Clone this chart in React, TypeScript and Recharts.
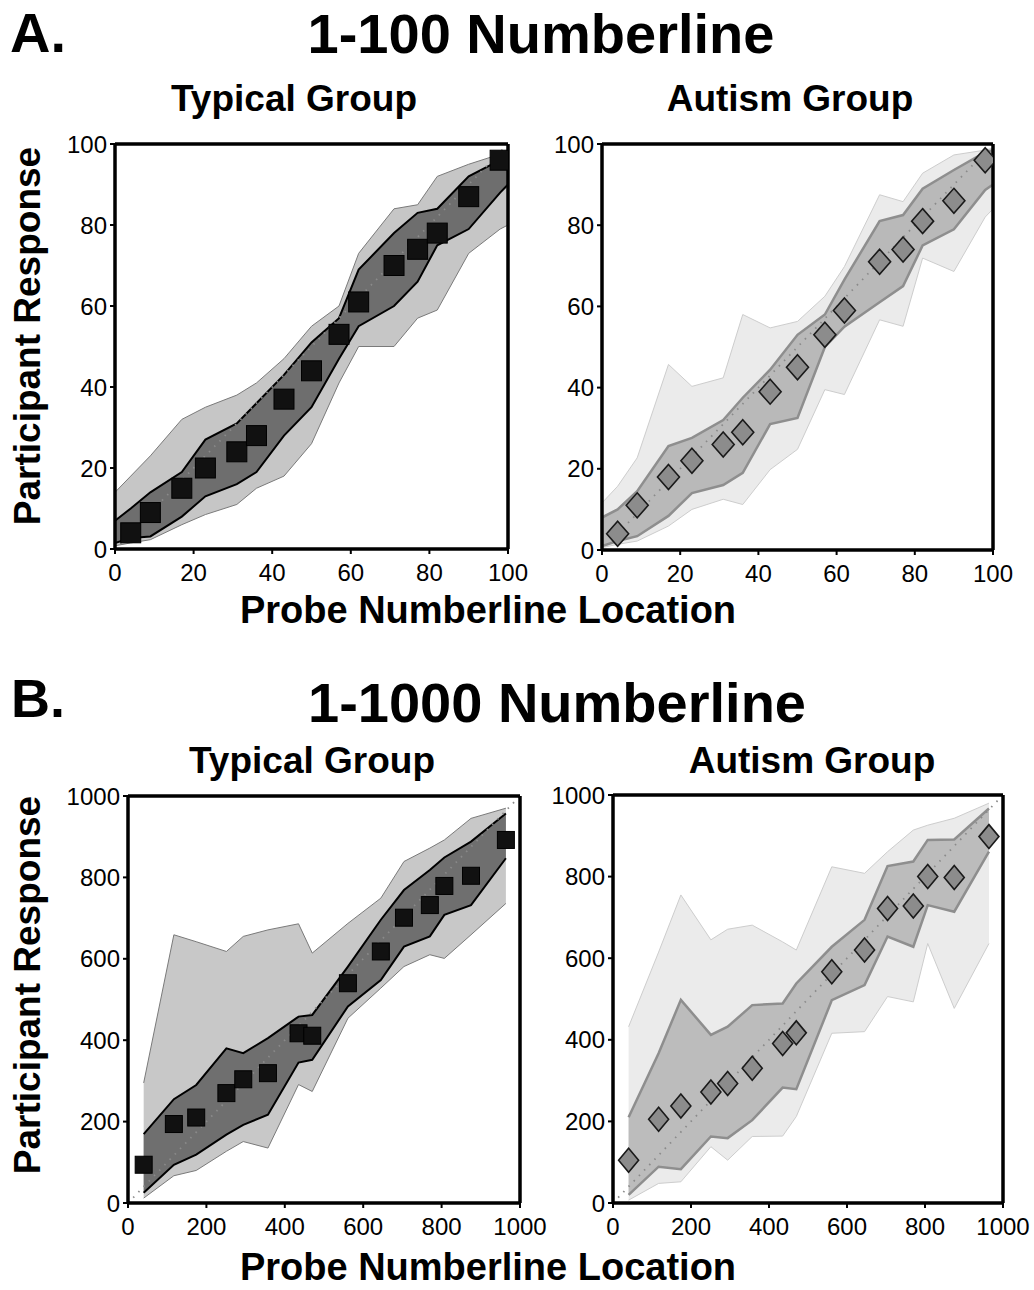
import React from 'react';
import { ComposedChart, Area, Line, Scatter, XAxis, YAxis } from 'recharts';

// ---------- 1-100 numberline ----------
const probesA = [4, 9, 17, 23, 31, 36, 43, 50, 57, 62, 71, 77, 82, 90, 98];
const bandXA = [0, 4, 9, 17, 23, 31, 36, 43, 50, 57, 62, 71, 77, 82, 90, 98, 100];
const ticksA = [0, 20, 40, 60, 80, 100];

const typA_mean = [4, 9, 15, 20, 24, 28, 37, 44, 53, 61, 70, 74, 78, 87, 96];
const typA_innerHi = [7, 10, 14, 19, 27, 31, 36, 43, 51, 57, 69, 78, 83, 84, 92, 96, 97];
const typA_innerLo = [1.5, 2.7, 3.1, 8, 13, 16, 19, 28, 35, 47, 55, 60, 66, 75, 79, 88, 90];
const typA_outerHi = [14, 18, 23, 32, 35, 38, 41, 47, 55, 60, 73, 84, 85, 92, 95, 97.5, 98];
const typA_outerLo = [0.8, 1.5, 2.3, 6, 8.5, 11, 15, 18, 26, 41, 50, 50, 57, 59, 73, 79, 80];

const autA_mean = [4, 11, 18, 22, 26, 29, 39, 45, 53, 59, 71, 74, 81, 86, 96];
const autA_innerHi = [8, 10, 14.5, 25.6, 27.6, 32, 37.5, 44.4, 53, 58, 66.6, 81, 82.5, 89, 93.6, 98, 98.5];
const autA_innerLo = [1, 2.2, 3.4, 8.4, 14, 16, 19, 31, 32.5, 50, 55, 61, 65, 75, 79, 88.7, 90];
const autA_outerHi = [11.6, 15.7, 22.7, 45.7, 40.3, 42.4, 58, 54.7, 56.3, 62.5, 69.8, 87.5, 85.8, 92.8, 97.3, 98.5, 99];
const autA_outerLo = [0.6, 1.4, 2.2, 5.9, 10, 12.5, 11.2, 19.8, 24.8, 39.5, 38.3, 56.7, 55.1, 71.9, 68.6, 82, 84];

// ---------- 1-1000 numberline ----------
const probesB = [40, 117, 174, 251, 294, 357, 435, 470, 561, 645, 704, 770, 807, 875, 964];
const bandXB = probesB;
const ticksB = [0, 200, 400, 600, 800, 1000];

const typB_mean = [94, 194, 210, 270, 304, 319, 417, 411, 540, 618, 701, 732, 779, 804, 892];
const typB_innerHi = [169, 255, 290, 380, 368, 405, 458, 462, 581, 696, 769, 818, 849, 888, 957];
const typB_innerLo = [25, 94, 119, 168, 192, 217, 345, 352, 483, 548, 630, 655, 708, 732, 847];
const typB_outerHi = [295, 659, 642, 618, 655, 671, 686, 614, 687, 749, 839, 872, 892, 945, 970];
const typB_outerLo = [12, 67, 80, 127, 151, 135, 291, 274, 454, 528, 581, 610, 601, 659, 736];

const autB_mean = [105, 205, 238, 272, 293, 330, 391, 417, 567, 620, 722, 728, 800, 798, 898];
const autB_innerHi = [210, 367, 498, 412, 432, 485, 489, 538, 628, 694, 826, 837, 890, 891, 967];
const autB_innerLo = [20, 89, 83, 163, 159, 203, 283, 279, 497, 534, 653, 628, 730, 714, 861];
const autB_outerHi = [432, 615, 755, 645, 671, 681, 640, 620, 824, 808, 861, 914, 926, 943, 980];
const autB_outerLo = [7, 48, 52, 138, 105, 163, 164, 212, 416, 420, 506, 493, 636, 477, 636];

const FONT = '"Liberation Sans", Arial, Helvetica, sans-serif';

const bandRows = (xs: number[], oLo: number[], oHi: number[], iLo: number[], iHi: number[]) =>
  xs.map((x, i) => ({ x, outer: [oLo[i], oHi[i]], inner: [iLo[i], iHi[i]] }));
const markerRows = (xs: number[], ys: number[]) => xs.map((x, i) => ({ x, y: ys[i] }));

const squareShape = (size: number) => (p: any) => {
  if (p.cx == null || p.cy == null) return <g />;
  return (
    <rect x={p.cx - size / 2} y={p.cy - size / 2} width={size} height={size}
      fill="#111" stroke="#000" strokeWidth={1} />
  );
};
const diamondShape = (w: number, h: number) => (p: any) => {
  if (p.cx == null || p.cy == null) return <g />;
  const { cx, cy } = p;
  return (
    <polygon points={`${cx},${cy - h / 2} ${cx + w / 2},${cy} ${cx},${cy + h / 2} ${cx - w / 2},${cy}`}
      fill="#8c8c8c" stroke="#1a1a1a" strokeWidth={1.6} />
  );
};

type PanelProps = {
  rect: { x0: number; y0: number; x1: number; y1: number };
  max: number;
  ticks: number[];
  bands: any[];
  markers: any[];
  outerFill: string; outerStroke: string; outerW: number;
  innerFill: string; innerStroke: string; innerW: number;
  shape: any;
};

function Panel(props: PanelProps) {
  const { rect, max, ticks, bands, markers, shape } = props;
  const mL = 80, mR = 30, mT = 12, mB = 44, side = 1;
  const left = rect.x0 - mL, top = rect.y0 - mT - side;
  const width = rect.x1 - rect.x0 + mL + mR + side;
  const height = rect.y1 - rect.y0 + mT + side + mB;
  const identity = [{ x: 0, y: 0 }, { x: max, y: max }];
  const tickStyle = { fontSize: 24, fill: '#000', fontFamily: FONT };
  const axisLine = { stroke: '#000', strokeWidth: 3.5 };
  const tickLine = { stroke: '#000', strokeWidth: 2 };
  return (
    <div style={{ position: 'absolute', left, top }}>
      <ComposedChart width={width} height={height} data={bands}
        margin={{ top: mT, right: mR, bottom: 0, left: 0 }}>
        <XAxis xAxisId="b" dataKey="x" type="number" domain={[0, max]} ticks={ticks}
          height={mB} tick={tickStyle} tickSize={5} tickMargin={10}
          stroke="#000" strokeWidth={3.5}
          axisLine={axisLine} tickLine={tickLine} allowDataOverflow />
        <XAxis xAxisId="t" orientation="top" dataKey="x" type="number" domain={[0, max]} ticks={ticks}
          height={side} tick={false} tickSize={4} stroke="#000" strokeWidth={3.5}
          axisLine={axisLine} tickLine={tickLine} allowDataOverflow />
        <YAxis yAxisId="l" type="number" domain={[0, max]} ticks={ticks} width={mL}
          tick={tickStyle} tickSize={5} tickMargin={3} stroke="#000" strokeWidth={3.5}
          axisLine={axisLine} tickLine={tickLine} allowDataOverflow />
        <YAxis yAxisId="r" orientation="right" type="number" domain={[0, max]} ticks={ticks} width={side}
          tick={false} tickSize={4} stroke="#000" strokeWidth={3.5}
          axisLine={axisLine} tickLine={tickLine} allowDataOverflow />
        <Area xAxisId="b" yAxisId="l" dataKey="outer" type="linear"
          fill={props.outerFill} fillOpacity={1} stroke={props.outerStroke} strokeWidth={props.outerW}
          isAnimationActive={false} dot={false} activeDot={false} />
        <Area xAxisId="b" yAxisId="l" dataKey="inner" type="linear"
          fill={props.innerFill} fillOpacity={1} stroke={props.innerStroke} strokeWidth={props.innerW}
          isAnimationActive={false} dot={false} activeDot={false} />
        <Line xAxisId="b" yAxisId="l" data={identity} dataKey="y" type="linear"
          stroke="#8a8a8a" strokeWidth={1.8} strokeDasharray="1.5 6" dot={false} activeDot={false}
          isAnimationActive={false} />
        <Scatter xAxisId="b" yAxisId="l" data={markers} dataKey="y" shape={shape}
          isAnimationActive={false} />
      </ComposedChart>
    </div>
  );
}

export default function App() {
  const bold = { fontFamily: FONT, fontWeight: 700, fill: '#000' } as any;
  return (
    <div style={{ position: 'absolute', left: 0, top: 0, width: 1034, height: 1290, background: '#fff', overflow: 'hidden' }}>
      <Panel rect={{ x0: 115, y0: 144, x1: 508, y1: 549 }} max={100} ticks={ticksA}
        bands={bandRows(bandXA, typA_outerLo, typA_outerHi, typA_innerLo, typA_innerHi)}
        markers={markerRows(probesA, typA_mean)}
        outerFill="#c6c6c6" outerStroke="#7a7a7a" outerW={1}
        innerFill="#6e6e6e" innerStroke="#000" innerW={2}
        shape={squareShape(20)} />
      <Panel rect={{ x0: 602, y0: 144, x1: 993, y1: 550 }} max={100} ticks={ticksA}
        bands={bandRows(bandXA, autA_outerLo, autA_outerHi, autA_innerLo, autA_innerHi)}
        markers={markerRows(probesA, autA_mean)}
        outerFill="#ebebeb" outerStroke="#cdcdcd" outerW={1}
        innerFill="#b9b9b9" innerStroke="#8e8e8e" innerW={2.5}
        shape={diamondShape(22, 25)} />
      <Panel rect={{ x0: 128, y0: 796, x1: 520, y1: 1203 }} max={1000} ticks={ticksB}
        bands={bandRows(bandXB, typB_outerLo, typB_outerHi, typB_innerLo, typB_innerHi)}
        markers={markerRows(probesB, typB_mean)}
        outerFill="#c8c8c8" outerStroke="#7a7a7a" outerW={1}
        innerFill="#6f6f6f" innerStroke="#000" innerW={2}
        shape={squareShape(17)} />
      <Panel rect={{ x0: 613, y0: 795, x1: 1003, y1: 1203 }} max={1000} ticks={ticksB}
        bands={bandRows(bandXB, autB_outerLo, autB_outerHi, autB_innerLo, autB_innerHi)}
        markers={markerRows(probesB, autB_mean)}
        outerFill="#ebebeb" outerStroke="#cdcdcd" outerW={1}
        innerFill="#bcbcbc" innerStroke="#8e8e8e" innerW={2.5}
        shape={diamondShape(20, 24)} />
      <svg width={1034} height={1290} style={{ position: 'absolute', left: 0, top: 0, pointerEvents: 'none' }}>
        <text x={10} y={52} fontSize={56} {...bold}>A.</text>
        <text x={541} y={53} fontSize={56} textAnchor="middle" {...bold}>1-100 Numberline</text>
        <text x={294} y={111} fontSize={37} textAnchor="middle" {...bold}>Typical Group</text>
        <text x={790} y={111} fontSize={37} textAnchor="middle" {...bold}>Autism Group</text>
        <text x={40} y={336} fontSize={37} textAnchor="middle" transform="rotate(-90 40 336)" {...bold}>Participant Response</text>
        <text x={488} y={623} fontSize={38} textAnchor="middle" {...bold}>Probe Numberline Location</text>

        <text x={11} y={717} fontSize={54} {...bold}>B.</text>
        <text x={557} y={722} fontSize={56} textAnchor="middle" {...bold}>1-1000 Numberline</text>
        <text x={312} y={773} fontSize={37} textAnchor="middle" {...bold}>Typical Group</text>
        <text x={812} y={773} fontSize={37} textAnchor="middle" {...bold}>Autism Group</text>
        <text x={40} y={985} fontSize={37} textAnchor="middle" transform="rotate(-90 40 985)" {...bold}>Participant Response</text>
        <text x={488} y={1280} fontSize={38} textAnchor="middle" {...bold}>Probe Numberline Location</text>
      </svg>
    </div>
  );
}
